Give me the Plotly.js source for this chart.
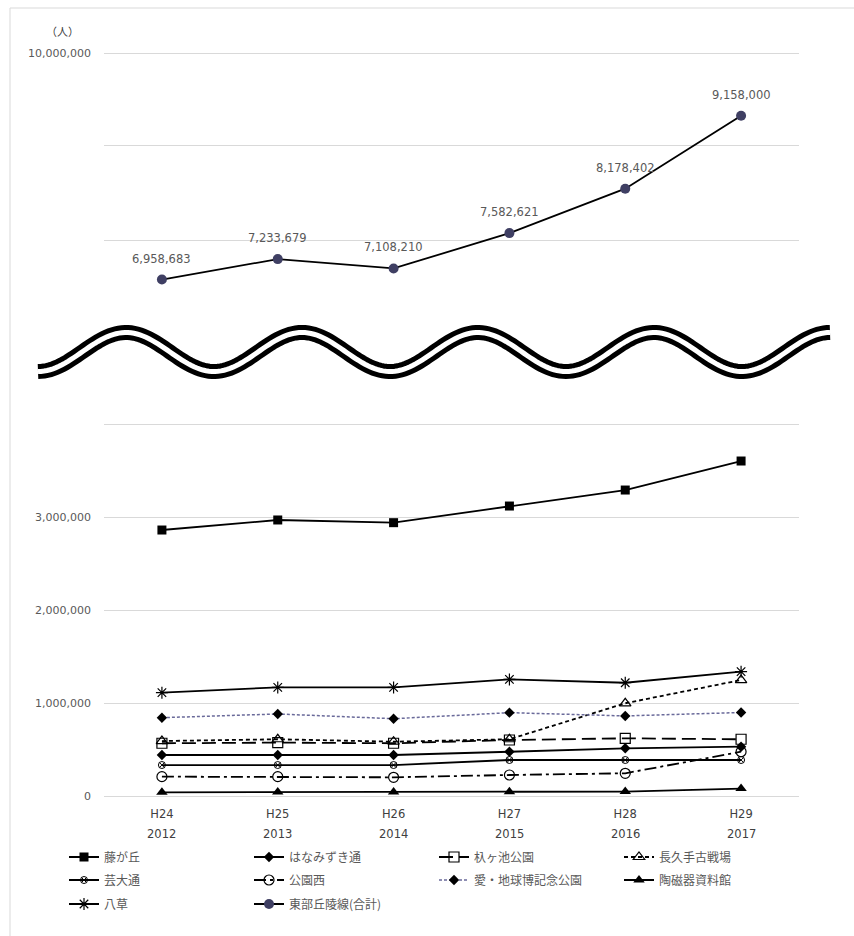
<!DOCTYPE html>
<html>
<head>
<meta charset="utf-8">
<script src="https://cdn.plot.ly/plotly-3.0.1.min.js"></script>
<style>html,body{margin:0;padding:0;background:#fff;}#chart{width:854px;height:936px;}</style>
</head>
<body>
<div id="chart"></div>
<script>
// ---- data ----
const eraLabels = ['H24', 'H25', 'H26', 'H27', 'H28', 'H29'];
const yearLabels = ['2012', '2013', '2014', '2015', '2016', '2017'];

const fujigaoka   = [2860000, 2968000, 2939000, 3118000, 3290000, 3602000];
const hanamizuki  = [441000, 441000, 441000, 476000, 513000, 530000];
const ketsugaike  = [567000, 574000, 567000, 602000, 620000, 610000];
const nagakute    = [591000, 610000, 584000, 610000, 997000, 1247000];
const geidai      = [333000, 333000, 333000, 387000, 387000, 387000];
const koenNishi   = [208000, 208000, 201000, 226000, 244000, 476000];
const expoPark    = [842000, 882000, 831000, 896000, 861000, 898000];
const toujiki     = [40000, 42000, 42000, 45000, 48000, 80000];
const yakusa      = [1111000, 1168000, 1168000, 1254000, 1218000, 1337000];
const totalLinimo = [6958683, 7233679, 7108210, 7582621, 8178402, 9158000];

const seriesNames = ['藤が丘', 'はなみずき通', '杁ヶ池公園', '長久手古戦場', '芸大通', '公園西',
                     '愛・地球博記念公園', '陶磁器資料館', '八草', '東部丘陵線(合計)'];

// ---- layout helpers ----
const W = 854, H = 936;
const px = x => x / W;
const py = y => 1 - y / H;
const grey = '#595959';
const cjk = '"Noto Sans CJK JP", "Noto Sans", sans-serif';
const num = '"DejaVu Sans", "Noto Sans", sans-serif';

function lower(values, name, legend, marker, line) {
  return {
    type: 'scatter', mode: 'lines+markers', x: eraLabels, y: values, name: name, legend: legend,
    xaxis: 'x2', yaxis: 'y2', marker: marker, line: line, cliponaxis: false
  };
}

const traces = [
  lower(fujigaoka, seriesNames[0], 'legend', {symbol: 'square', size: 9, color: '#000'}, {color: '#000', width: 1.8}),
  lower(hanamizuki, seriesNames[1], 'legend', {symbol: 'diamond', size: 8, color: '#000'}, {color: '#000', width: 1.8}),
  lower(ketsugaike, seriesNames[2], 'legend', {symbol: 'square-open', size: 10, color: '#000', line: {width: 1.2}}, {color: '#000', width: 1.8, dash: '14px,6px'}),
  lower(nagakute, seriesNames[3], 'legend', {symbol: 'triangle-up-open', size: 10, color: '#000', line: {width: 1.2}}, {color: '#000', width: 1.8, dash: '4px,3px'}),
  lower(geidai, seriesNames[4], 'legend2', {symbol: 'circle-x-open', size: 7, color: '#000', line: {width: 1}}, {color: '#000', width: 1.8}),
  lower(koenNishi, seriesNames[5], 'legend2', {symbol: 'circle-open', size: 10, color: '#000', line: {width: 1.2}}, {color: '#000', width: 1.8, dash: '12px,4px,3px,4px'}),
  lower(expoPark, seriesNames[6], 'legend2', {symbol: 'diamond', size: 8, color: '#000'}, {color: '#6a6a9a', width: 1.5, dash: '3px,2px'}),
  lower(toujiki, seriesNames[7], 'legend2', {symbol: 'triangle-up', size: 10, color: '#000'}, {color: '#000', width: 1.8}),
  lower(yakusa, seriesNames[8], 'legend3', {symbol: 'asterisk-open', size: 10, color: '#000', line: {width: 1.2}}, {color: '#000', width: 1.8}),
  {
    type: 'scatter', mode: 'lines+markers', x: eraLabels, y: totalLinimo, name: seriesNames[9], legend: 'legend3',
    xaxis: 'x', yaxis: 'y', marker: {symbol: 'circle', size: 10, color: '#3f3f63'},
    line: {color: '#000', width: 1.8}, cliponaxis: false
  }
];

// data labels for the total series
const annotations = totalLinimo.map((v, i) => ({
  x: eraLabels[i], y: v, xref: 'x', yref: 'y', text: v.toLocaleString('en-US'),
  showarrow: false, yshift: 21, font: {size: 11.5, color: grey, family: num}
}));
// year line under the era tick labels
yearLabels.forEach((t, i) => annotations.push({
  x: eraLabels[i], xref: 'x2', y: py(834), yref: 'paper', yanchor: 'middle', text: t, showarrow: false,
  font: {size: 11.5, color: '#404040', family: num}
}));
annotations.push({x: px(62), y: py(31), xref: 'paper', yref: 'paper', xanchor: 'center', yanchor: 'middle',
  text: '（人）', showarrow: false, font: {size: 11, color: '#404040', family: cjk}});

// wavy break mark
let wave = '';
for (let x = 38; x <= 830; x += 3) {
  const y = 352 + 19.5 * Math.cos(2 * Math.PI * (x - 38) / 176);
  wave += (x === 38 ? 'M' : 'L') + px(x).toFixed(5) + ',' + py(y).toFixed(5) + ' ';
}
const shapes = [
  {type: 'path', xref: 'paper', yref: 'paper', path: wave, line: {color: '#000', width: 15}},
  {type: 'path', xref: 'paper', yref: 'paper', path: wave, line: {color: '#fff', width: 5}},
  {type: 'line', xref: 'paper', yref: 'paper', x0: px(10), x1: px(10), y0: py(8), y1: py(936), line: {color: '#d9d9d9', width: 1}},
  {type: 'line', xref: 'paper', yref: 'paper', x0: px(10), x1: px(854), y0: py(8), y1: py(8), line: {color: '#d9d9d9', width: 1}}
];

function legendRow(yPix) {
  return {orientation: 'h', x: px(64), xanchor: 'left', y: py(yPix), yanchor: 'middle',
          entrywidth: 140, entrywidthmode: 'pixels', traceorder: 'normal',
          font: {size: 12, color: grey, family: cjk}, bgcolor: 'rgba(0,0,0,0)'};
}

const xDomain = [px(104), px(799)];
const layout = {
  width: W, height: H,
  margin: {l: 0, r: 0, t: 0, b: 0},
  paper_bgcolor: '#fff', plot_bgcolor: 'rgba(0,0,0,0)',
  font: {family: num, color: grey, size: 11},
  showlegend: true,
  xaxis: {domain: xDomain, anchor: 'y', type: 'category', range: [-0.5, 5.5],
          showticklabels: false, showgrid: false, zeroline: false, showline: false, ticks: ''},
  yaxis: {domain: [py(300), py(40)], anchor: 'x', range: [6684600, 10174500],
          tickmode: 'array', tickvals: [7490000, 8765000, 10000000], ticktext: ['', '', '10,000,000'],
          showgrid: true, gridcolor: '#d9d9d9', gridwidth: 1, zeroline: false, ticks: '',
          ticklabelstandoff: 12, tickfont: {size: 11, color: grey, family: num}},
  xaxis2: {domain: xDomain, anchor: 'y2', type: 'category', range: [-0.5, 5.5],
           showgrid: false, zeroline: false, showline: false, ticks: '',
           tickfont: {size: 11.5, color: '#404040', family: num}},
  yaxis2: {domain: [py(805.3), py(414.7)], anchor: 'x2', range: [-100000, 4100000],
           tickmode: 'array', tickvals: [0, 1000000, 2000000, 3000000, 4000000],
           ticktext: ['0', '1,000,000', '2,000,000', '3,000,000', ''],
           showgrid: true, gridcolor: '#d9d9d9', gridwidth: 1, zeroline: false, ticks: '',
           ticklabelstandoff: 12, tickfont: {size: 11, color: grey, family: num}},
  legend: legendRow(857),
  legend2: legendRow(880),
  legend3: legendRow(904),
  annotations: annotations,
  shapes: shapes
};

Plotly.newPlot('chart', traces, layout, {displayModeBar: false, staticPlot: true});
</script>
</body>
</html>
